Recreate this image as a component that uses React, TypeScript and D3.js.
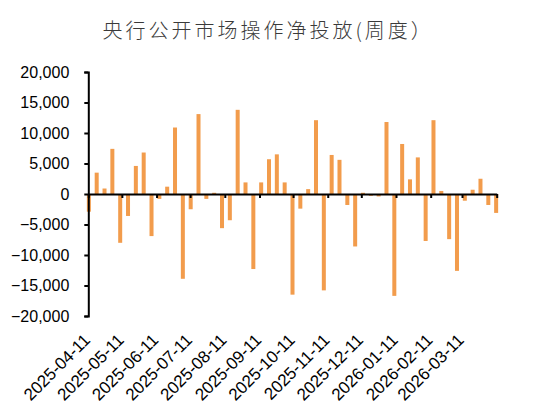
import * as d3 from "d3";
import { useEffect, useRef } from "react";

// weekly net injection (100 mn yuan), weeks starting 2025-04-11
const firstWeek = "2025-04-11";
const netInjection = [
  -2900, 3500, 900, 7400, -8000, -3600, 4600, 6800, -6900, -800,
  1200, 10900, -13900, -2500, 13100, -800, 200, -5600, -4300, 13800,
  1900, -12300, 1900, 5700, 6500, 1900, -16500, -2400, 800, 12100,
  -15800, 6400, 5600, -1800, -8600, 200, -300, -400, 11800, -16700,
  8200, 2400, 6000, -7700, 12100, 500, -7400, -12600, -1100, 700,
  2500, -1800, -3100,
];
const monthTicks = [
  "2025-04-11", "2025-05-11", "2025-06-11", "2025-07-11", "2025-08-11",
  "2025-09-11", "2025-10-11", "2025-11-11", "2025-12-11", "2026-01-11",
  "2026-02-11", "2026-03-11",
];
const axisEnd = "2026-04-11";
const yTicks = [20000, 15000, 10000, 5000, 0, -5000, -10000, -15000, -20000];
const title = "央行公开市场操作净投放(周度）";

export default function App() {
  const ref = useRef<SVGSVGElement | null>(null);

  useEffect(() => {
    const el = ref.current;
    if (!el) return;
    const svg = d3.select(el);
    svg.selectAll("*").remove();

    const W = 533;
    const H = 414;
    const left = 88.3;
    const right = 496.7;
    const top = 72;
    const bottom = 316;
    const barColor = "#F29C4C";

    const parse = d3.utcParse("%Y-%m-%d");
    const start = parse(firstWeek)!;
    const weeks = netInjection.map((v, i) => ({
      date: d3.utcDay.offset(start, 7 * i),
      value: v,
    }));

    const x = d3
      .scaleUtc()
      .domain([start, parse(axisEnd)!])
      .range([left, right]);
    const y = d3.scaleLinear().domain([-20000, 20000]).range([bottom, top]);

    svg.attr("viewBox", `0 0 ${W} ${H}`).attr("width", W).attr("height", H);

    svg
      .append("text")
      .attr("x", 102.5)
      .attr("y", 38)
      .attr("font-family", "'Noto Sans CJK SC', sans-serif")
      .attr("font-weight", 300)
      .attr("font-size", 20)
      .attr("letter-spacing", 3)
      .attr("fill", "#3a3a3a")
      .text(title);

    // bars (Excel date axis: bar centred in its day slot)
    const bw = 4;
    svg
      .append("g")
      .selectAll("rect")
      .data(weeks)
      .join("rect")
      .attr("x", (d) => x(d3.utcHour.offset(d.date, 12)) - bw / 2)
      .attr("width", bw)
      .attr("y", (d) => y(Math.max(0, d.value)))
      .attr("height", (d) => Math.abs(y(d.value) - y(0)))
      .attr("fill", barColor);

    // y axis
    const ya = svg
      .append("g")
      .attr("transform", `translate(${left},0)`)
      .call(
        d3
          .axisLeft(y)
          .tickValues(yTicks)
          .tickSize(4)
          .tickPadding(15)
          .tickFormat((v) => d3.format(",")(v as number)),
      );
    ya.select(".domain").attr("stroke", "#000").attr("stroke-width", 2);
    ya.selectAll(".tick line").attr("stroke", "#000").attr("stroke-width", 2);
    ya.selectAll(".tick text")
      .attr("fill", "#000")
      .attr("font-size", 16)
      .attr("font-family", "'Liberation Sans', Arial, sans-serif");

    // x axis on the zero line
    const tickDates = monthTicks.map((s) => parse(s)!);
    const xa = svg
      .append("g")
      .attr("transform", `translate(0,${y(0)})`)
      .call(
        d3
          .axisBottom(x)
          .tickValues([...tickDates, parse(axisEnd)!])
          .tickSize(4)
          .tickSizeOuter(0)
          .tickFormat(() => ""),
      );
    xa.select(".domain").attr("stroke", "#000").attr("stroke-width", 2);
    xa.selectAll(".tick line").attr("stroke", "#000").attr("stroke-width", 2);

    // rotated date labels under the plot
    svg
      .append("g")
      .selectAll("text")
      .data(monthTicks)
      .join("text")
      .attr("transform", (s) => `translate(${x(parse(s)!) + 3},${bottom + 25}) rotate(-45)`)
      .attr("text-anchor", "end")
      .attr("font-size", 17)
      .attr("font-family", "'Liberation Sans', Arial, sans-serif")
      .attr("fill", "#000")
      .text((s) => s);
  }, []);

  return (
    <svg
      ref={ref}
      style={{ position: "absolute", left: 0, top: 0, background: "#fff" }}
    />
  );
}
